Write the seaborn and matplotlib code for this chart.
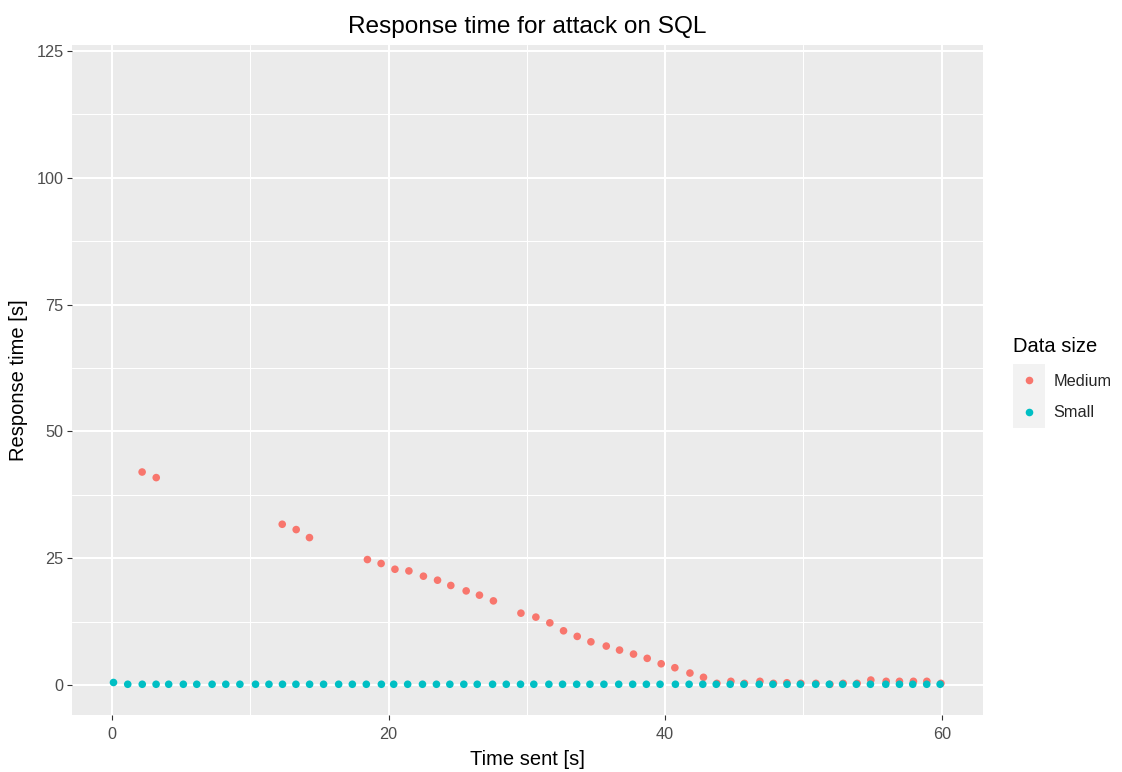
import numpy as np
import pandas as pd
import matplotlib
matplotlib.use("Agg")
import matplotlib.pyplot as plt
from matplotlib.patches import Rectangle
from matplotlib.ticker import FixedLocator
import seaborn as sns

# ---- data ----
small_time = [0.11, 1.14, 2.19, 3.19, 4.10, 5.16, 6.13, 7.24, 8.23, 9.25,
              10.38, 11.35, 12.33, 13.30, 14.29, 15.30, 16.39, 17.38, 18.39, 19.48,
              20.37, 21.38, 22.45, 23.46, 24.43, 25.44, 26.41, 27.52, 28.51, 29.54,
              30.50, 31.59, 32.58, 33.60, 34.56, 35.57, 36.64, 37.65, 38.64, 39.63,
              40.74, 41.73, 42.72, 43.69, 44.70, 45.69, 46.80, 47.79, 48.81, 49.77,
              50.88, 51.87, 52.83, 53.82, 54.84, 55.95, 56.94, 57.90, 58.91, 59.88]
small_resp = [0.5] + [0.15] * 59

medium_time = [2.18, 3.20, 12.31, 13.32, 14.28, 18.47, 19.46, 20.46, 21.47, 22.52,
               23.54, 24.50, 25.61, 26.57, 27.58, 29.57, 30.65, 31.66, 32.65, 33.64,
               34.63, 35.74, 36.70, 37.71, 38.70, 39.71, 40.70, 41.79, 42.77, 43.74,
               44.75, 45.73, 46.85, 47.83, 48.80, 49.81, 50.90, 51.91, 52.87, 53.88,
               54.87, 55.98, 56.94, 57.95, 58.92, 59.94]
medium_resp = [42.0, 40.9, 31.7, 30.65, 29.07, 24.74, 23.96, 22.83, 22.5, 21.46,
               20.67, 19.63, 18.56, 17.72, 16.59, 14.17, 13.39, 12.26, 10.69, 9.59,
               8.52, 7.68, 6.89, 6.10, 5.26, 4.19, 3.41, 2.36, 1.52, 0.33,
               0.73, 0.33, 0.73, 0.33, 0.45, 0.33, 0.33, 0.14, 0.33, 0.33,
               0.98, 0.73, 0.73, 0.73, 0.73, 0.33]

size_labels = ["Medium", "Small"]
palette = ["#F8766D", "#00BFC4"]

title = "Response time for attack on SQL"
xlabel = "Time sent [s]"
ylabel = "Response time [s]"
legend_title = "Data size"

df = pd.concat([
    pd.DataFrame({"time": medium_time, "resp": medium_resp, "size": "Medium"}),
    pd.DataFrame({"time": small_time, "resp": small_resp, "size": "Small"}),
], ignore_index=True)

# ---- style ----
sns.set_theme(style="darkgrid")
plt.rcParams["font.family"] = ["Liberation Sans", "DejaVu Sans"]
plt.rcParams["axes.facecolor"] = "#EBEBEB"

fig = plt.figure(figsize=(11.22, 7.72), dpi=100)
ax = fig.add_axes([72 / 1122, 1 - 715.3 / 772, (983 - 72) / 1122, (715.3 - 45) / 772])
ax.set_facecolor("#EBEBEB")

sns.scatterplot(data=df, x="time", y="resp", hue="size", hue_order=size_labels,
                palette=palette, s=30, linewidth=0, ax=ax, zorder=3)

ax.set_xlim(-2.89, 62.98)
ax.set_ylim(-5.97, 126.2)
ax.xaxis.set_major_locator(FixedLocator([0, 20, 40, 60]))
ax.xaxis.set_minor_locator(FixedLocator([10, 30, 50]))
ax.yaxis.set_major_locator(FixedLocator([0, 25, 50, 75, 100, 125]))
ax.yaxis.set_minor_locator(FixedLocator([12.5, 37.5, 62.5, 87.5, 112.5]))
ax.grid(which="major", color="white", linewidth=1.45)
ax.grid(which="minor", color="white", linewidth=0.75)
ax.set_axisbelow(True)
for sp in ax.spines.values():
    sp.set_visible(False)

ax.tick_params(which="major", length=3.6, width=0.8, color="#333333",
               labelcolor="#4D4D4D", labelsize=11.7, pad=2.5, bottom=True, left=True)
ax.tick_params(axis="x", which="major", pad=4.5)
ax.tick_params(which="minor", length=0)

ax.set_title(title, fontsize=17.6, color="black", pad=9)
ax.set_xlabel(xlabel, fontsize=14.5, color="black", labelpad=6)
ax.set_ylabel(ylabel, fontsize=14.5, color="black", labelpad=6)

# legend
handles, labels = ax.get_legend_handles_labels()
if ax.get_legend():
    ax.get_legend().remove()
fig.patches.append(Rectangle((1013 / 1122, 1 - 428 / 772), 32 / 1122, 64 / 772,
                             transform=fig.transFigure, facecolor="#F2F2F2",
                             edgecolor="none", zorder=0))
fig.text(1013 / 1122, 1 - 346 / 772, legend_title, fontsize=14.5, color="black",
         ha="left", va="center")
leg = fig.legend(handles, labels, loc="upper left",
                 bbox_to_anchor=(1013 / 1122, 1 - 374 / 772),
                 frameon=False, fontsize=11.7,
                 handlelength=2.0, handletextpad=0.5, labelspacing=1.0,
                 borderpad=0, borderaxespad=0, markerscale=1.0)

fig.savefig("out.png", dpi=100)
